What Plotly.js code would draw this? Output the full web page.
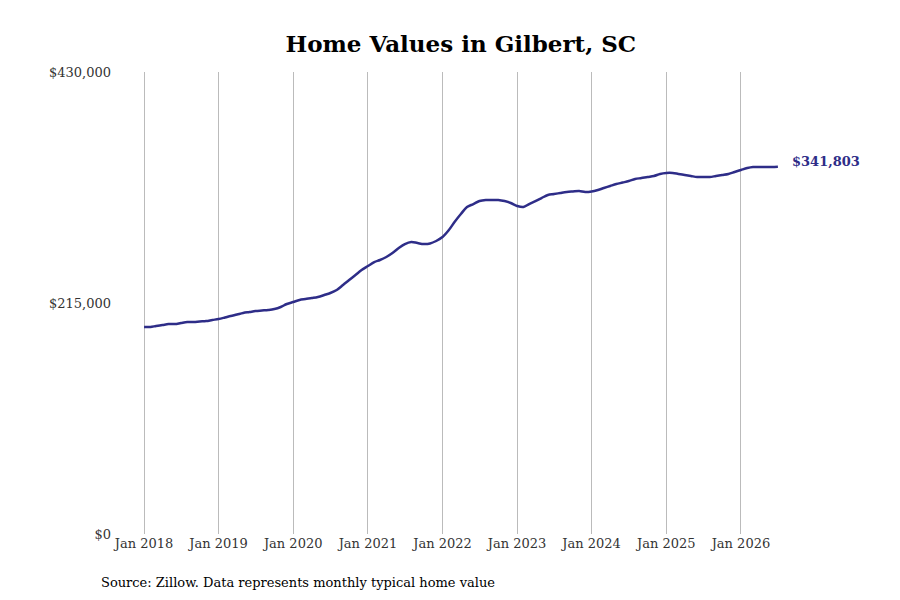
<!DOCTYPE html>
<html><head><meta charset="utf-8">
<script src="https://cdn.plot.ly/plotly-3.0.1.min.js"></script>
<style>body{margin:0}</style></head><body>
<div id="chart" style="width:900px;height:600px"></div>
<script>
const startYear = 2018;
const values = [
192.7,192.7,193.6,194.5,195.4,195.4,196.4,197.3,197.3,197.8,198.2,199.2,
200.1,201.5,202.9,204.3,205.7,206.6,207.5,208.0,208.5,209.4,211.3,214.1,
215.9,217.8,218.7,219.6,220.6,222.4,224.3,227.1,231.7,236.4,241.1,245.7,
249.4,253.1,255.0,257.8,261.5,266.2,269.9,271.8,270.8,269.9,270.4,272.7,
276.4,282.9,290.4,297.8,304.3,307.1,309.9,310.9,310.9,310.9,309.9,308.1,
305.3,304.3,307.1,309.9,312.7,315.5,316.4,317.4,318.3,318.8,319.2,318.3,
318.8,320.2,322.0,323.9,325.7,327.1,328.5,330.4,331.3,332.3,333.2,335.1,
336.0,336.0,335.1,334.1,333.2,332.3,332.3,332.3,333.2,334.1,335.1,336.9,
338.8,340.6,341.6,341.6,341.6,341.6,341.803
];
const dates = values.map((v,i)=>{const y=startYear+Math.floor(i/12), m=i%12+1; return y+'-'+String(m).padStart(2,'0')+'-01';});
const yVals = values.map(v=>v*1000);
const lastLabel = '$341,803';
const F = 'DejaVu Serif, serif';
Plotly.newPlot('chart',[{x:dates,y:yVals,type:'scatter',mode:'lines',line:{color:'#2e2d88',width:2.5,shape:'spline'},hoverinfo:'skip',cliponaxis:false}],{
  width:900,height:600,
  margin:{l:112,r:88,t:72,b:66},
  paper_bgcolor:'#fff',plot_bgcolor:'#fff',
  title:{text:'<b>Home Values in Gilbert, SC</b>',font:{family:F,size:23,color:'#000'},x:0.512,xanchor:'center',y:0.926,yanchor:'middle'},
  xaxis:{type:'date',range:['2017-07-28','2026-12-15'],dtick:'M12',tick0:'2018-01-01',tickformat:'%b %Y',showgrid:true,gridcolor:'#bbb',gridwidth:1,zeroline:false,showline:false,ticks:'',tickfont:{family:F,size:13,color:'#333'}},
  yaxis:{range:[0,430000],tickvals:[0,215000,430000],ticktext:['$0','$215,000','$430,000'],showgrid:false,zeroline:false,showline:false,ticks:'',tickfont:{family:F,size:13,color:'#333'}},
  annotations:[
    {x:dates[dates.length-1],y:yVals[yVals.length-1],text:'<b>'+lastLabel+'</b>',showarrow:false,xanchor:'left',xshift:12,yshift:5,font:{family:F,size:13,color:'#2e2d88'}},
    {xref:'paper',yref:'paper',x:-0.018,y:-0.105,xanchor:'left',yanchor:'middle',text:'Source: Zillow. Data represents monthly typical home value',showarrow:false,font:{family:F,size:13,color:'#000'}}
  ],
  showlegend:false
},{displayModeBar:false});
</script></body></html>
